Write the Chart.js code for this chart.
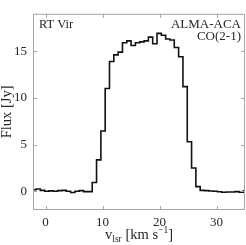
<!DOCTYPE html>
<html>
<head>
<meta charset="utf-8">
<script src="https://cdn.jsdelivr.net/npm/chart.js@4"></script>
<style>
  html, body { margin: 0; padding: 0; background: #fff; }
  #wrap { width: 246px; height: 245px; }
</style>
</head>
<body>
<div id="wrap"><canvas id="c" width="246" height="245"></canvas></div>
<script>
// Channel velocities (km/s) — channel centres
const velocity = [-2.80, -2.04, -1.29, -0.53, 0.23, 0.99, 1.75, 2.51, 3.26, 4.02,
  4.78, 5.54, 6.30, 7.05, 7.81, 8.57, 9.33, 10.09, 10.84, 11.60,
  12.36, 13.12, 13.88, 14.63, 15.39, 16.15, 16.91, 17.67, 18.42, 19.18,
  19.94, 20.70, 21.46, 22.21, 22.97, 23.73, 24.49, 25.25, 26.00, 26.76,
  27.52, 28.28, 29.04, 29.79, 30.55, 31.31, 32.07, 32.83, 33.58, 34.34,
  35.10, 35.86];
// Flux density (Jy)
const flux = [0.10, 0.17, 0.24, 0.10, 0.00, 0.05, 0.00, 0.07, 0.10, 0.00,
  -0.13, 0.00, 0.07, -0.03, -0.03, 0.95, 3.37, 6.46, 11.0, 13.9,
  14.6, 14.9, 15.9, 16.1, 15.6, 15.9, 16.0, 16.1, 16.5, 15.8,
  16.9, 16.7, 16.3, 16.2, 15.4, 14.4, 11.2, 5.3, 2.5, 0.5,
  0.10, 0.07, 0.03, 0.00, -0.05, -0.10, -0.07, -0.07, -0.03, -0.10,
  0.05, 0.00];
const xTicks = [0, 10, 20, 30];
const yTicks = [0, 5, 10, 15];
const sourceName = 'RT Vir';
const instrument = 'ALMA-ACA';
const lineName = 'CO(2-1)';

const FONT = '"Liberation Serif", "DejaVu Serif", serif';
const TEXT = '#262626';
const AXIS = '#a6a6a6';

const framePlugin = {
  id: 'frame',
  afterDraw(chart) {
    const {ctx, chartArea: a, scales} = chart;
    const xs = scales.x, ys = scales.y;
    ctx.save();
    ctx.strokeStyle = AXIS;
    ctx.lineWidth = 1;
    ctx.strokeRect(a.left + 0.5, a.top + 0.5, a.right - a.left - 1, a.bottom - a.top - 1);
    const L = 4;
    ctx.beginPath();
    xTicks.forEach(v => {
      const px = Math.round(xs.getPixelForValue(v)) + 0.5;
      ctx.moveTo(px, a.bottom); ctx.lineTo(px, a.bottom - L);
      ctx.moveTo(px, a.top); ctx.lineTo(px, a.top + L);
    });
    yTicks.forEach(v => {
      const py = Math.round(ys.getPixelForValue(v)) + 0.5;
      ctx.moveTo(a.left, py); ctx.lineTo(a.left + L, py);
      ctx.moveTo(a.right, py); ctx.lineTo(a.right - L, py);
    });
    ctx.stroke();

    // annotations
    ctx.fillStyle = TEXT;
    ctx.font = '12.5px ' + FONT;
    ctx.textBaseline = 'alphabetic';
    ctx.textAlign = 'left';
    ctx.fillText(sourceName, a.left + 6, a.top + 14);
    ctx.textAlign = 'right';
    ctx.font = '13px ' + FONT;
    ctx.fillText(instrument, a.right - 4, a.top + 14);
    ctx.fillText(lineName, a.right - 4, a.top + 26);

    // y title
    ctx.save();
    ctx.translate(11, (a.top + a.bottom) / 2);
    ctx.rotate(-Math.PI / 2);
    ctx.textAlign = 'center';
    ctx.font = '14.5px ' + FONT;
    ctx.fillText('Flux [Jy]', 0, 0);
    ctx.restore();

    // x title with sub/superscript
    const parts = [
      {t: 'v', f: '14.5px ' + FONT, dy: 0},
      {t: 'lsr', f: '9.5px ' + FONT, dy: 3},
      {t: ' [km s', f: '14.5px ' + FONT, dy: 0},
      {t: '\u22121', f: '9.5px ' + FONT, dy: -6},
      {t: ']', f: '14.5px ' + FONT, dy: 0}
    ];
    let total = 0;
    parts.forEach(p => { ctx.font = p.f; p.w = ctx.measureText(p.t).width; total += p.w; });
    let x = (a.left + a.right) / 2 - total / 2;
    const base = 239;
    ctx.textAlign = 'left';
    parts.forEach(p => { ctx.font = p.f; ctx.fillText(p.t, x, base + p.dy); x += p.w; });
    ctx.restore();
  }
};

new Chart(document.getElementById('c'), {
  type: 'line',
  data: {
    datasets: [{
      data: velocity.map((v, i) => ({x: v, y: flux[i]})),
      borderColor: '#111111',
      borderWidth: 1.6,
      pointRadius: 0,
      stepped: 'middle',
      fill: false
    }]
  },
  options: {
    responsive: false,
    animation: false,
    layout: {padding: {top: 0, right: 1, left: 0, bottom: 0}},
    plugins: {legend: {display: false}, tooltip: {enabled: false}},
    scales: {
      x: {
        type: 'linear', min: -2.2, max: 35,
        afterBuildTicks: s => { s.ticks = xTicks.map(v => ({value: v})); },
        afterFit: s => { s.height = 35; },
        grid: {display: false, drawTicks: false},
        border: {display: false},
        ticks: {color: TEXT, font: {family: FONT, size: 13}, padding: 5, maxRotation: 0}
      },
      y: {
        type: 'linear', min: -2, max: 19,
        afterBuildTicks: s => { s.ticks = yTicks.map(v => ({value: v})); },
        afterFit: s => { s.width = 33; },
        grid: {display: false, drawTicks: false},
        border: {display: false},
        ticks: {color: TEXT, font: {family: FONT, size: 13}, padding: 6}
      }
    }
  },
  plugins: [framePlugin]
});
</script>
</body>
</html>
